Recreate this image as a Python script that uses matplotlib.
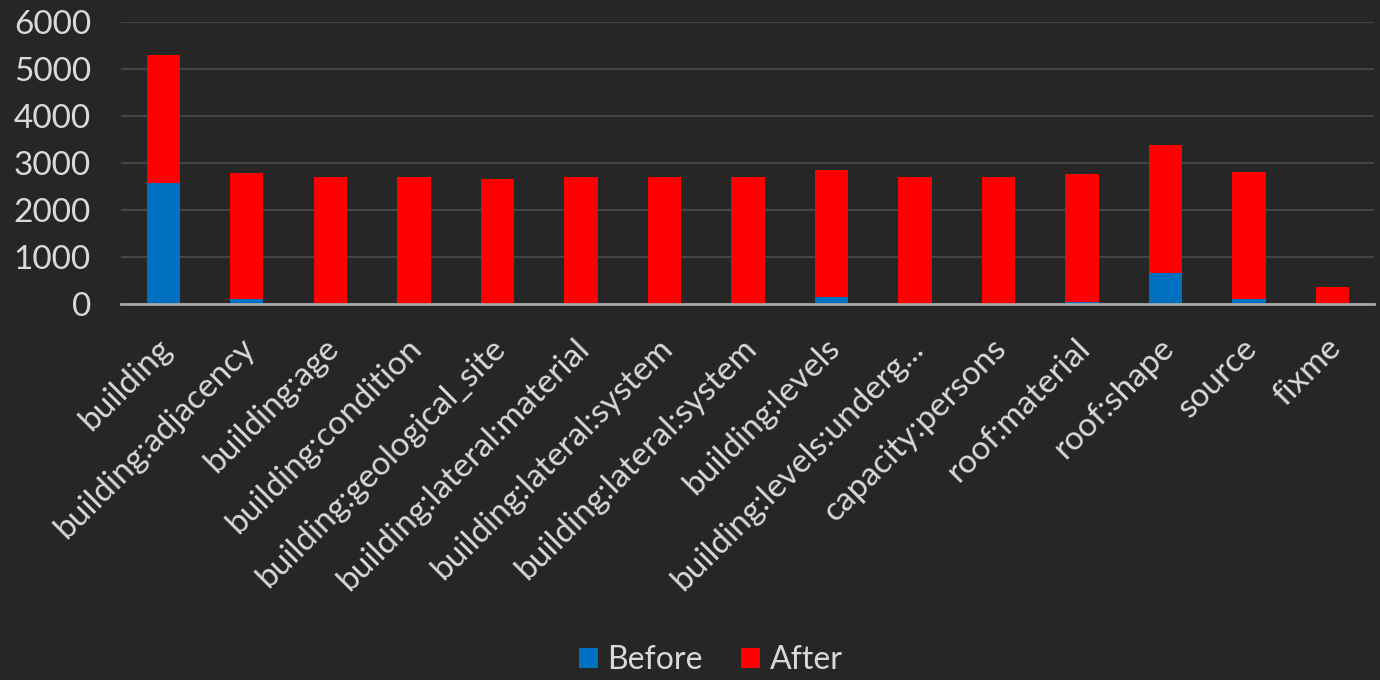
import matplotlib.pyplot as plt
import matplotlib.transforms as mtransforms
import numpy as np

categories = [
    "building",
    "building:adjacency",
    "building:age",
    "building:condition",
    "building:geological_site",
    "building:lateral:material",
    "building:lateral:system",
    "building:lateral:system",
    "building:levels",
    "building:levels:underg...",
    "capacity:persons",
    "roof:material",
    "roof:shape",
    "source",
    "fixme",
]
before = [2580, 100, 0, 0, 0, 0, 0, 0, 140, 0, 0, 50, 660, 100, 0]
after = [2720, 2690, 2690, 2690, 2660, 2690, 2690, 2690, 2700, 2690, 2690, 2710, 2710, 2710, 360]

BG = "#262626"
TEXT = "#d9d9d9"
BLUE = "#0070c0"
RED = "#ff0000"

plt.rcParams["font.family"] = ["Lato", "DejaVu Sans"]

fig = plt.figure(figsize=(13.8, 6.8), dpi=100, facecolor=BG)
ax = fig.add_axes([0.088, 0.553, 0.908, 0.415], facecolor=BG)

x = np.arange(len(categories))
ax.bar(x, before, width=0.4, color=BLUE, label="Before", zorder=3)
ax.bar(x, after, width=0.4, bottom=before, color=RED, label="After", zorder=3)

ax.set_ylim(0, 6000)
ax.set_xlim(-0.5, len(categories) - 0.5)
ax.set_yticks(range(0, 6001, 1000))
ax.yaxis.grid(True, color="#444444", linewidth=1.5, zorder=0)
ax.set_axisbelow(True)

for side in ["top", "right", "left"]:
    ax.spines[side].set_visible(False)
ax.spines["bottom"].set_color("#a6a6a6")
ax.spines["bottom"].set_linewidth(2)
ax.spines["bottom"].set_zorder(4)

ax.tick_params(axis="both", length=0, colors=TEXT, labelsize=24)
ax.tick_params(axis="y", pad=22)
ax.set_xticks(x)
ax.set_xticklabels(categories, rotation=45, ha="right", rotation_mode="anchor")
shift = mtransforms.ScaledTranslation(-0.07, -0.24, fig.dpi_scale_trans)
for lbl in ax.get_xticklabels():
    lbl.set_transform(lbl.get_transform() + shift)

fig.legend(
    loc="lower center",
    bbox_to_anchor=(0.515, -0.035),
    ncol=2,
    frameon=False,
    fontsize=23,
    labelcolor=TEXT,
    handlelength=0.6,
    handleheight=0.6,
    handletextpad=0.3,
    columnspacing=1.2,
)

fig.savefig("out.png", dpi=100, facecolor=BG)
